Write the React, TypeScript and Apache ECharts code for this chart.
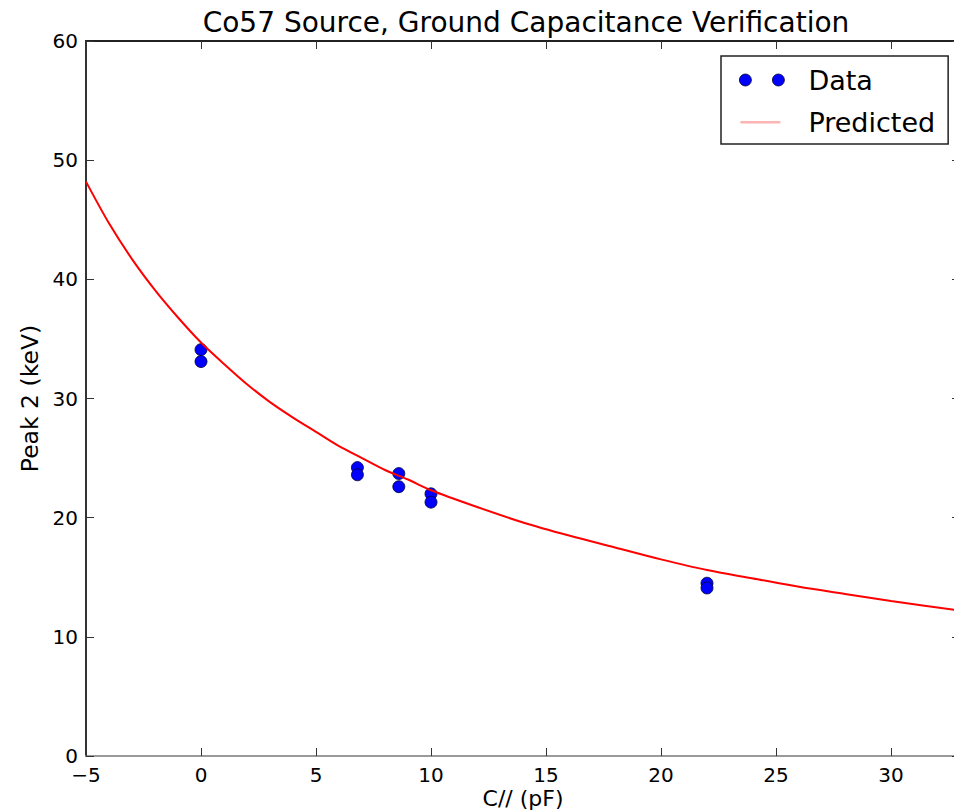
import React, { useEffect, useRef } from "react";
import * as echarts from "echarts";

const titleText = "Co57 Source, Ground Capacitance Verification";
const xAxisName = "C// (pF)";
const yAxisName = "Peak 2 (keV)";

// Measured data points
const dataX = [0, 0, 6.8, 6.8, 8.6, 8.6, 10.0, 10.0, 22.0, 22.0];
const dataY = [34.1, 33.1, 24.2, 23.6, 23.7, 22.6, 22.0, 21.3, 14.5, 14.1];

// Predicted curve
const predX = [-5, -4, -3, -2, -1, 0, 1, 2, 3, 4, 5, 6, 7, 8, 9, 10, 12, 14, 16, 18, 20, 22, 24, 26, 28, 30, 33];
const predY = [48.2, 44.7, 41.7, 39.1, 36.8, 34.7, 32.9, 31.2, 29.7, 28.4, 27.2, 26.0, 25.0, 24.0, 23.2, 22.3, 20.9, 19.6, 18.5, 17.5, 16.5, 15.6, 14.9, 14.2, 13.6, 13.0, 12.2];

const FONT = "DejaVu Sans";

export default function App() {
  const ref = useRef<HTMLDivElement>(null);
  useEffect(() => {
    if (!ref.current) return;
    const chart = echarts.init(ref.current, null, { renderer: "svg" });
    const fmtX = (v: number) => {
      if (Math.abs(v % 5) > 1e-6) return "";
      return v < 0 ? "\u2212" + String(-v) : String(v);
    };
    chart.setOption({
      animation: false,
      backgroundColor: "#fff",
      textStyle: { fontFamily: FONT },
      title: {
        text: titleText,
        left: 521,
        textAlign: "center",
        top: 3,
        textStyle: { fontFamily: FONT, fontSize: 28, fontWeight: "normal", color: "#000" },
      },
      grid: { left: 86, right: -6, top: 41, bottom: 56, containLabel: false, outerBoundsMode: "none" },
      legend: {
        orient: "vertical",
        left: 721,
        top: 56,
        padding: [8, 13, 6, 18],
        itemGap: 10,
        itemWidth: 64,
        itemHeight: 12,
        borderColor: "#222",
        borderWidth: 1.5,
        backgroundColor: "#fff",
        textStyle: { fontFamily: FONT, fontSize: 27, color: "#000", lineHeight: 32 },
        data: [
          {
            name: "Data",
            icon: "path://M0,0M64,12M0,6a6,6 0 1,0 12,0a6,6 0 1,0 -12,0zM33,6a6,6 0 1,0 12,0a6,6 0 1,0 -12,0z",
            itemStyle: { color: "#0000ff", borderColor: "#000033", borderWidth: 0.8 },
          },
          {
            name: "Predicted",
            icon: "path://M0,0M64,12M1,5h40v2.6h-40z",
            itemStyle: { color: "#ffb4b4", borderWidth: 0 },
          },
        ],
      },
      xAxis: [
        {
          type: "value",
          min: -5,
          max: 33,
          interval: 5,
          position: "bottom",
          splitLine: { show: false },
          axisLine: { show: true, onZero: false, lineStyle: { color: "#9a9a9a", width: 2 } },
          axisTick: { show: true, inside: true, length: 8, lineStyle: { color: "#333", width: 1 } },
          axisLabel: { fontFamily: FONT, fontSize: 20, lineHeight: 18, color: "#000", margin: 10, formatter: fmtX },
          name: xAxisName,
          nameLocation: "middle",
          nameGap: 32,
          nameMoveOverlap: false,
          nameTextStyle: { fontFamily: FONT, fontSize: 22, lineHeight: 20, color: "#000" },
        },
        {
          type: "value",
          min: -5,
          max: 33,
          interval: 5,
          position: "top",
          splitLine: { show: false },
          axisLine: { show: true, onZero: false, lineStyle: { color: "#222", width: 2 } },
          axisTick: { show: true, inside: true, length: 8, lineStyle: { color: "#333", width: 1 } },
          axisLabel: { show: false },
        },
      ],
      yAxis: [
        {
          type: "value",
          min: 0,
          max: 60,
          interval: 10,
          position: "left",
          splitLine: { show: false },
          axisLine: { show: true, onZero: false, lineStyle: { color: "#333", width: 2 } },
          axisTick: { show: true, inside: true, length: 8, lineStyle: { color: "#333", width: 1 } },
          axisLabel: { fontFamily: FONT, fontSize: 20, lineHeight: 16, color: "#000", margin: 8 },
          name: yAxisName,
          nameLocation: "middle",
          nameGap: 44,
          nameMoveOverlap: false,
          nameTextStyle: { fontFamily: FONT, fontSize: 23.5, color: "#000" },
        },
        {
          type: "value",
          min: 0,
          max: 60,
          interval: 10,
          position: "right",
          splitLine: { show: false },
          axisLine: { show: true, onZero: false, lineStyle: { color: "#222", width: 2 } },
          axisTick: { show: true, inside: true, length: 8, lineStyle: { color: "#333", width: 1 } },
          axisLabel: { show: false },
        },
      ],
      series: [
        {
          name: "Data",
          type: "scatter",
          xAxisIndex: 0,
          yAxisIndex: 0,
          symbol: "circle",
          symbolSize: 12,
          itemStyle: { color: "#0000ff", borderColor: "#000033", borderWidth: 0.8, opacity: 1 },
          data: dataX.map((x, i) => [x, dataY[i]]),
          z: 2,
        },
        {
          name: "Predicted",
          type: "line",
          xAxisIndex: 0,
          yAxisIndex: 0,
          showSymbol: false,
          smooth: 0.3,
          lineStyle: { color: "#ff0000", width: 2 },
          itemStyle: { color: "#ff0000" },
          data: predX.map((x, i) => [x, predY[i]]),
          z: 3,
        },
      ],
    });
    return () => chart.dispose();
  }, []);
  return <div ref={ref} style={{ width: 954, height: 812, position: "absolute", left: 0, top: 0 }} />;
}
